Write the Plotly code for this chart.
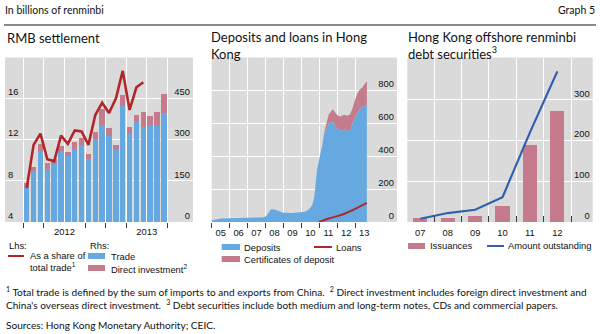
import plotly.graph_objects as go

W, H = 600, 334


def px(x):
    return x / W


def py(y):
    return (H - y) / H


# ---------------- Panel 1: RMB settlement (monthly, Jan 2012 - Sep 2013) ----------------
months = ["2012-01", "2012-02", "2012-03", "2012-04", "2012-05", "2012-06", "2012-07",
          "2012-08", "2012-09", "2012-10", "2012-11", "2012-12", "2013-01", "2013-02",
          "2013-03", "2013-04", "2013-05", "2013-06", "2013-07", "2013-08", "2013-09"]
trade = [126, 185, 260, 192, 210, 258, 240, 268, 277, 231, 302, 355, 314, 262,
         423, 326, 365, 348, 355, 351, 398]
direct_investment = [15, 15, 23, 23, 21, 20, 16, 22, 31, 17, 28, 58, 28, 19,
                     40, 22, 24, 52, 33, 51, 70]
share_of_total_trade = [7.3, 11.5, 12.6, 10.1, 9.9, 12.4, 11.6, 12.9, 12.8, 11.5, 14.4,
                        15.6, 14.6, 16.0, 18.7, 14.9, 17.1, 17.6, None, None, None]
p1_year_labels = ["2012", "2013"]

# ---------------- Panel 2: Deposits and loans in Hong Kong ----------------
dep_time = [2005.0, 2005.25, 2005.5, 2006.0, 2006.5, 2007.0, 2007.5, 2007.85, 2008.05,
            2008.2, 2008.3, 2008.5, 2008.75, 2009.0, 2009.5, 2009.9, 2010.2, 2010.4,
            2010.6, 2010.72, 2010.87, 2011.02, 2011.15, 2011.28, 2011.39, 2011.52,
            2011.65, 2011.74, 2011.85, 2011.98, 2012.13, 2012.26, 2012.41, 2012.54,
            2012.69, 2012.82, 2012.96, 2013.09, 2013.24, 2013.37, 2013.5, 2013.65]
deposits = [10, 18, 22, 23, 24, 24, 26, 28, 37, 60, 78, 76, 66, 56, 55, 58, 62, 75,
            102, 153, 316, 397, 458, 540, 570, 601, 605, 611, 591, 570, 560, 554, 564,
            560, 550, 591, 631, 652, 686, 698, 703, 713]
cert_of_deposit = [0, 0, 0, 0, 0, 0, 0, 0, 0, 0, 0, 0, 0, 0, 0, 0, 0, 0, 0, 0, 0, 0, 0,
                   8, 31, 51, 67, 75, 81, 82, 82, 92, 88, 86, 102, 91, 92, 122, 118, 117,
                   132, 142]
loan_time = [2010.98, 2011.5, 2012.0, 2012.5, 2013.0, 2013.65]
loans = [0, 20, 36, 55, 80, 116]
p2_years = [2005, 2006, 2007, 2008, 2009, 2010, 2011, 2012, 2013]
p2_year_labels = ["05", "06", "07", "08", "09", "10", "11", "12", "13"]

# ---------------- Panel 3: Hong Kong offshore renminbi debt securities ----------------
debt_years = ["07", "08", "09", "10", "11", "12"]
issuances = [10, 11, 14, 40, 189, 273]
amount_outstanding = [8, 22, 30, 61, 220, 370]

# ---------------- styling ----------------
BLUE = "#66a9e0"
PINK = "#c47b8b"
RED = "#b0262a"
LINEBLUE = "#2f5fae"
BG = "#dadada"
TICKC = "#3a3a3a"
AX_FONT = dict(family="Liberation Sans, Arial, sans-serif", size=9.4, color="#111")
TXT_FONT = dict(family="Lato, sans-serif", size=10.1, color="#111")
TITLE_FONT = dict(family="Lato, sans-serif", size=13, color="#111")

fig = go.Figure()

# Panel 1 traces
xpos1 = [i + 0.5 for i in range(len(months))]
fig.add_trace(go.Bar(x=xpos1, y=trade, marker=dict(color=BLUE, line=dict(width=0)),
                     width=0.78, xaxis="x", yaxis="y", name="Trade"))
fig.add_trace(go.Bar(x=xpos1, y=direct_investment, marker=dict(color=PINK, line=dict(width=0)),
                     width=0.78, xaxis="x", yaxis="y", name="Direct investment"))
fig.add_trace(go.Scatter(x=xpos1, y=share_of_total_trade, mode="lines",
                         line=dict(color=RED, width=2.6), xaxis="x", yaxis="y2",
                         name="As a share of total trade"))

# Panel 2 traces
fig.add_trace(go.Scatter(x=dep_time, y=deposits, mode="lines", stackgroup="dep",
                         line=dict(width=0, color=BLUE), fillcolor=BLUE,
                         xaxis="x2", yaxis="y3", name="Deposits"))
fig.add_trace(go.Scatter(x=dep_time, y=cert_of_deposit, mode="lines", stackgroup="dep",
                         line=dict(width=0, color=PINK), fillcolor=PINK,
                         xaxis="x2", yaxis="y3", name="Certificates of deposit"))
fig.add_trace(go.Scatter(x=loan_time, y=loans, mode="lines", line=dict(color=RED, width=2),
                         line_shape="spline", xaxis="x2", yaxis="y3", name="Loans"))

# Panel 3 traces
xpos3 = list(range(len(debt_years)))
fig.add_trace(go.Bar(x=xpos3, y=issuances, width=0.52, marker=dict(color=PINK, line=dict(width=0)),
                     xaxis="x3", yaxis="y4", name="Issuances"))
fig.add_trace(go.Scatter(x=xpos3, y=amount_outstanding, mode="lines",
                         line=dict(color=LINEBLUE, width=2.2), xaxis="x3", yaxis="y4",
                         name="Amount outstanding"))

ydom = [py(222), py(57.5)]
common_y = dict(showgrid=True, gridcolor="white", gridwidth=1, zeroline=False, showline=False,
                ticks="", ticklabelposition="inside top", tickfont=AX_FONT, fixedrange=True)

fig.update_layout(
    width=W, height=H, autosize=False,
    margin=dict(l=0, r=0, t=0, b=0),
    paper_bgcolor="white", plot_bgcolor=BG,
    showlegend=False, barmode="stack", bargap=0,
    xaxis=dict(domain=[px(5), px(193)], range=[-2.67, 24.75], anchor="y",
               tickmode="array", tickvals=[6, 18], ticktext=p1_year_labels, ticks="",
               ticklabelstandoff=3,
               showgrid=True, gridcolor="white", zeroline=False, showline=False,
               tickfont=AX_FONT,
               minor=dict(tickvals=[0, 3, 9, 12, 15, 21], ticks="outside", ticklen=5,
                          tickcolor=TICKC, tickwidth=1, showgrid=True, gridcolor="white")),
    yaxis=dict(domain=ydom, range=[0, 600], side="right", anchor="x",
               tickmode="array", tickvals=[0, 150, 300, 450], **common_y),
    yaxis2=dict(range=[4, 20], overlaying="y", side="left", anchor="x",
                tickmode="array", tickvals=[4, 8, 12, 16],
                **{**common_y, "showgrid": False}),
    xaxis2=dict(domain=[px(211.7), px(397)], range=[2005, 2015.33], anchor="y3",
                tickmode="array", tickvals=[y + 0.5 for y in p2_years], ticktext=p2_year_labels,
                ticks="", ticklabelstandoff=4,
                showgrid=False, zeroline=False, showline=False, tickfont=AX_FONT,
                minor=dict(tickvals=p2_years, ticks="outside", ticklen=5, tickcolor=TICKC,
                           tickwidth=1, showgrid=True, gridcolor="white")),
    yaxis3=dict(domain=ydom, range=[0, 1000], side="right", anchor="x2",
                tickmode="array", tickvals=[0, 200, 400, 600, 800], **common_y),
    xaxis3=dict(domain=[px(407.3), px(592.7)], range=[-0.476, 6.29], anchor="y4",
                tickmode="array", tickvals=xpos3, ticktext=debt_years, ticks="",
                ticklabelstandoff=4,
                showgrid=False, zeroline=False, showline=False, tickfont=AX_FONT,
                minor=dict(tickvals=[i + 0.5 for i in xpos3], ticks="inside", ticklen=6,
                           tickcolor=TICKC, tickwidth=1, showgrid=True, gridcolor="white")),
    yaxis4=dict(domain=ydom, range=[0, 404], side="right", anchor="x3",
                tickmode="array", tickvals=[0, 100, 200, 300], **common_y),
)

annotations = []


def text(x, y, s, font=TXT_FONT, anchor="left", yanchor="middle"):
    annotations.append(dict(x=px(x), y=py(y), xref="paper", yref="paper", text=s,
                            showarrow=False, xanchor=anchor, yanchor=yanchor, font=font,
                            align="left", borderpad=0))


shapes = []


def rect(x0, y0, x1, y1, color):
    shapes.append(dict(type="rect", xref="paper", yref="paper", x0=px(x0), x1=px(x1),
                       y0=py(y1), y1=py(y0), fillcolor=color, line=dict(width=0)))


def hline(x0, x1, y, color, width):
    shapes.append(dict(type="line", xref="paper", yref="paper", x0=px(x0), x1=px(x1),
                       y0=py(y), y1=py(y), line=dict(color=color, width=width)))


# header
HDR = dict(family="Lato, sans-serif", size=10.5, color="#111")
text(4, 10, "In billions of renminbi", HDR)
text(596, 10, "Graph 5", HDR, anchor="right")
hline(4, 596, 25, "#8a8a8a", 2)

# panel titles
text(6, 38, "RMB settlement", TITLE_FONT)
text(210, 45, "Deposits and loans in Hong<br>Kong", TITLE_FONT)
text(407, 45, "Hong Kong offshore renminbi<br>debt securities<sup>3</sup>", TITLE_FONT)

# panel 1 legend
text(8, 246, "Lhs:", AX_FONT)
text(89, 246, "Rhs:", AX_FONT)
hline(8, 24, 256, RED, 2)
text(29, 261.5, "As a share of<br>total trade<sup>1</sup>", AX_FONT)
rect(88, 253, 105, 259, BLUE)
text(110, 256, "Trade", AX_FONT)
rect(88, 265, 105, 271, PINK)
text(110, 268.5, "Direct investment<sup>2</sup>", AX_FONT)

# panel 2 legend
rect(221.7, 244, 240, 250, BLUE)
text(243.3, 247, "Deposits", AX_FONT)
hline(314, 332, 247, RED, 2)
text(335, 247, "Loans", AX_FONT)
rect(221.7, 256, 240, 262, PINK)
text(243.3, 259, "Certificates of deposit", AX_FONT)

# panel 3 legend
rect(408, 243, 425, 249, PINK)
text(429.3, 246, "Issuances", AX_FONT)
hline(487, 504, 246, LINEBLUE, 2)
text(507, 246, "Amount outstanding", AX_FONT)

# footnotes
text(5, 291, "<sup>1</sup> Total trade is defined by the sum of imports to and exports from China.  "
             "<sup>2</sup> Direct investment includes foreign direct investment and")
text(5, 304, "China's overseas direct investment.  <sup>3</sup> Debt securities include both medium "
             "and long-term notes, CDs and commercial papers.")
text(5, 325, "Sources: Hong Kong Monetary Authority; CEIC.")

fig.update_layout(annotations=annotations, shapes=shapes)

fig.write_html("out.html", config={"displayModeBar": False, "staticPlot": True})
